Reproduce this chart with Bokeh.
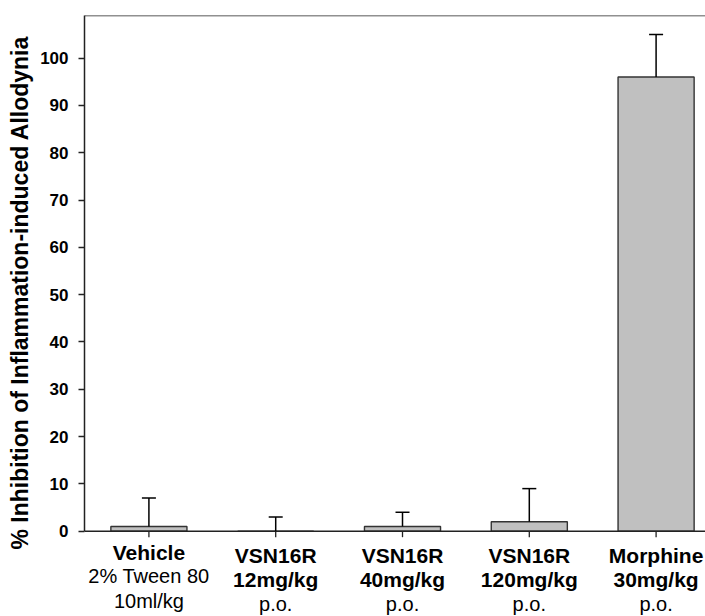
import numpy as np
from bokeh.plotting import figure
from bokeh.models import (ColumnDataSource, Span, Whisker, TeeHead, FixedTicker,
                          Range1d, Title)
from bokeh.core.properties import value
from bokeh.embed import file_html
from bokeh.resources import INLINE

# ---------------- data ----------------
groups = ["Vehicle", "VSN16R 12mg/kg", "VSN16R 40mg/kg", "VSN16R 120mg/kg", "Morphine 30mg/kg"]
mean_inhibition = [1, 0, 1, 2, 96]
sem_inhibition = [6, 3, 3, 7, 9]
label_line1 = ["Vehicle", "VSN16R", "VSN16R", "VSN16R", "Morphine"]
label_line2 = ["2% Tween 80", "12mg/kg", "40mg/kg", "120mg/kg", "30mg/kg"]
label_line3 = ["10ml/kg", "p.o.", "p.o.", "p.o.", "p.o."]
y_ticks = [0, 10, 20, 30, 40, 50, 60, 70, 80, 90, 100]
y_title = "% Inhibition of Inflammation-induced Allodynia"

# ---------------- layout ----------------
FONT = "Liberation Sans"
Y_MAX = 109
PX = 4.731          # pixels per % unit
W, H = 705, 616
LEFT, TOP = 83, 15
ZERO_PX = 530.7     # pixel row of y = 0
Y_MIN = -(H - ZERO_PX) / PX

xs = list(range(1, len(groups) + 1))
upper = [m + s for m, s in zip(mean_inhibition, sem_inhibition)]
src = ColumnDataSource(dict(x=xs, top=mean_inhibition, lower=mean_inhibition, upper=upper))

p = figure(width=W, height=H, output_backend="svg", toolbar_location=None,
           x_range=Range1d(0.492, 0.492 + (W - LEFT) / 127.0),
           y_range=Range1d(Y_MIN, Y_MAX),
           min_border_left=LEFT, min_border_right=0, min_border_top=TOP, min_border_bottom=0)

p.outline_line_color = None
p.xgrid.visible = False
p.ygrid.visible = False
p.xaxis.visible = False

p.vbar(x="x", top="top", width=0.6, source=src, fill_color="#c0c0c0",
       line_color="#333333", line_width=1.4)

p.add_layout(Whisker(base="x", upper="upper", lower="lower", source=src, dimension="height",
                     line_color="black", line_width=1.5,
                     upper_head=TeeHead(size=14, line_color="black", line_width=1.5),
                     lower_head=None, level="overlay"))

# top border and x baseline
p.add_layout(Span(location=Y_MAX, dimension="width", line_color="#222222", line_width=1.5))
p.add_layout(Span(location=0, dimension="width", line_color="#222222", line_width=1.5))
# x ticks at category centres (6 px long, downward)
p.segment(x0=xs, y0=[0] * len(xs), x1=xs, y1=[-6 / PX] * len(xs),
          line_color="#222222", line_width=1.3)

# y axis
ya = p.yaxis[0]
ya.bounds = (0, Y_MAX)
ya.ticker = FixedTicker(ticks=y_ticks)
ya.axis_line_color = "#222222"
ya.axis_line_width = 1.5
ya.major_tick_line_color = "#222222"
ya.major_tick_line_width = 1.3
ya.major_tick_in = 0
ya.major_tick_out = 6
ya.minor_tick_line_color = None
ya.major_label_text_font = FONT
ya.major_label_text_font_style = "bold"
ya.major_label_text_font_size = "17px"
ya.major_label_text_color = "black"
ya.major_label_standoff = 10

# y axis title as a side title (rotated), shifted to match the reference
p.add_layout(Title(text=y_title, align="left", offset=67, standoff=9,
                   text_font=FONT, text_font_style="bold", text_font_size="23px",
                   text_color="black"), "left")

# category labels
base_px = [551.7 if g == "Vehicle" else 555.2 for g in groups]
line_gap = 24.3

def ypos(row):
    return [(ZERO_PX - (b + row * line_gap)) / PX for b in base_px]

y1, y2, y3 = ypos(0), ypos(1), ypos(2)
bold2 = [i for i, g in enumerate(groups) if g != "Vehicle"]
norm2 = [i for i, g in enumerate(groups) if g == "Vehicle"]

common = dict(text_align="center", text_baseline="alphabetic", text_font=value(FONT),
              text_color="black")
p.text(x=xs, y=y1, text=label_line1, text_font_style="bold", text_font_size="21px", **common)
p.text(x=[xs[i] for i in bold2], y=[y2[i] for i in bold2],
       text=[label_line2[i] for i in bold2], text_font_style="bold",
       text_font_size="21px", **common)
p.text(x=[xs[i] for i in norm2], y=[y2[i] for i in norm2],
       text=[label_line2[i] for i in norm2], text_font_style="normal",
       text_font_size="20px", **common)
p.text(x=xs, y=y3, text=label_line3, text_font_style="normal", text_font_size="20px", **common)

open("out.html", "w").write(file_html(p, INLINE))
